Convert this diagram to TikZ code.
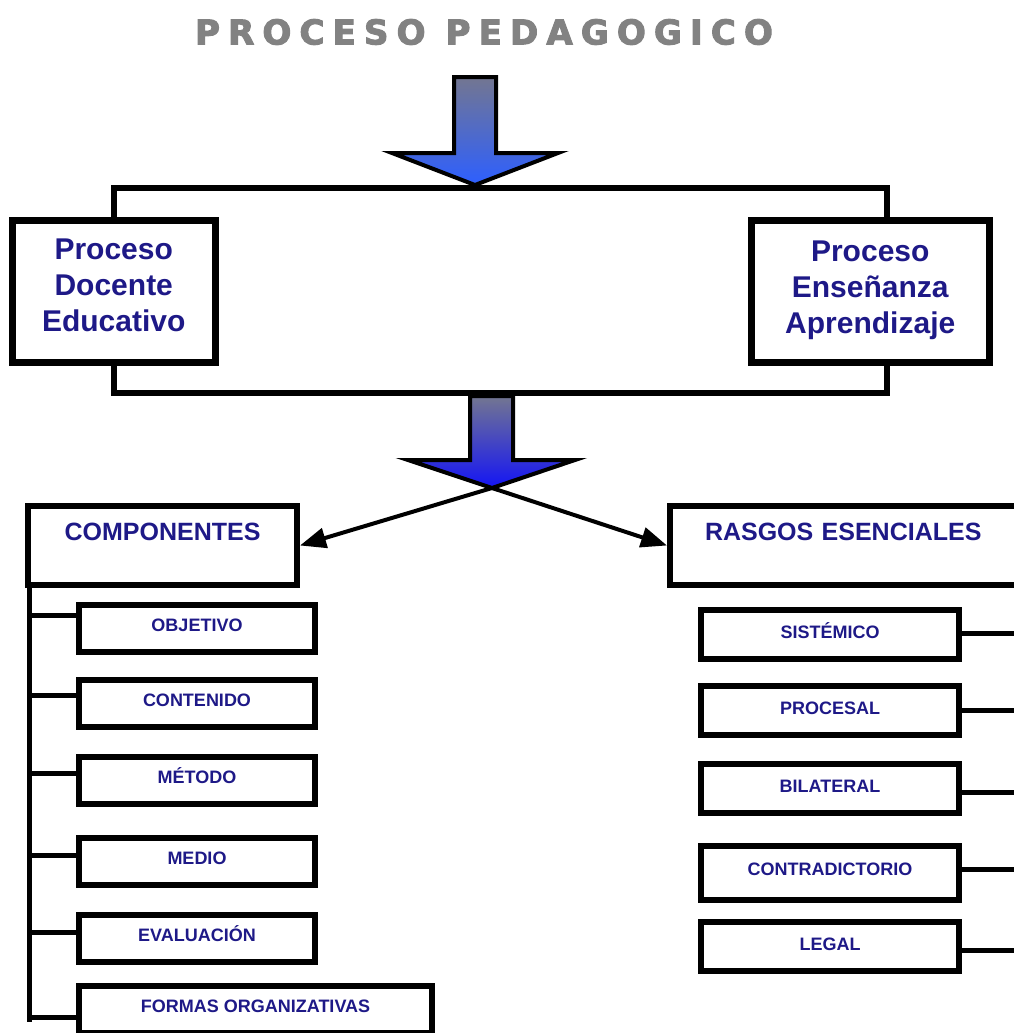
\documentclass[tikz,border=0pt]{standalone}
\usepackage{fontspec}
\setmainfont{Liberation Sans}
\newfontfamily\titlefont{DejaVu Sans Bold}[LetterSpace=24,FakeBold=3]
\usepackage{tikz}
\usetikzlibrary{arrows.meta,positioning}

\definecolor{txtblue}{RGB}{30,25,135}
\definecolor{titlegray}{RGB}{130,130,130}
\definecolor{arrowtop}{RGB}{115,118,145}
\definecolor{arrowbot}{RGB}{45,95,255}
\definecolor{arrowbotb}{RGB}{20,20,245}

\begin{document}
\begin{tikzpicture}[x=1pt,y=-1pt,
    boxframe/.style={draw,line width=6pt,inner sep=0pt,anchor=north west,text=txtblue},
    bigbox/.style={boxframe,line width=6.5pt,minimum height=142pt,align=center,
      font=\fontsize{30}{36}\selectfont\bfseries},
    headbox/.style={boxframe,text height=34pt,text depth=45pt,
      font=\fontsize{25}{30}\selectfont\bfseries},
    leftbox/.style={boxframe,minimum width=236pt,text height=26pt,text depth=21pt,
      font=\fontsize{18}{21}\selectfont\bfseries},
    rightbox/.style={boxframe,minimum width=258pt,text height=28pt,text depth=21pt,
      font=\fontsize{18}{21}\selectfont\bfseries},
    conn/.style={line width=6.5pt},
    branch/.style={line width=5pt},
    pointer/.style={line width=4pt,-{Triangle[length=26pt,width=20pt]}},
    blockarrow/.style={draw,line width=4pt,line join=miter}]
  \useasboundingbox (0,0) rectangle (1014,1033);

  \node[text=titlegray,font=\fontsize{34}{40}\selectfont\titlefont] (title) at (484,32) {PROCESO PEDAGOGICO};

  % upper level
  \node[bigbox,minimum width=203pt] (docente) at (9,217) {Proceso\\Docente\\Educativo\\[-24pt]};
  \node[bigbox,minimum width=238pt] (ensenanza) at (748,217) {Proceso\\Enseñanza\\Aprendizaje\\[-28pt]};
  \coordinate (topr) at (887,188);
  \coordinate (botr) at (887,393);

  \draw[blockarrow,top color=arrowtop,bottom color=arrowbot]
    (454,77) -- (496,77) -- (496,153) -- (558,153) -- (475,185) -- (392,153) -- (454,153) -- cycle;
  \draw[blockarrow,top color=arrowtop,bottom color=arrowbotb]
    (470,396) -- (513,396) -- (513,460) -- (575,460) -- (492,488) -- (408,460) -- (470,460) -- cycle;
  \coordinate (tip) at (492,488);

  \draw[conn] (docente.north) |- (topr) -- (topr |- ensenanza.north);
  \draw[conn] (docente.south) |- (botr) -- (botr |- ensenanza.south);

  % second level
  \node[headbox,minimum width=269pt] (comp) at (25,503) {COMPONENTES};
  \node[headbox,text width=330pt,align=left,inner xsep=35pt] (rasgos) at (667,503) {RASGOS ESENCIALES};
  \draw[pointer] (tip) -- (comp.east);
  \draw[pointer] (tip) -- (rasgos.west);

  % componentes
  \node[leftbox] (obj) at (76,602) {OBJETIVO};
  \node[leftbox] (cont) at (76,677) {CONTENIDO};
  \node[leftbox] (met) at (76,754) {MÉTODO};
  \node[leftbox] (med) at (76,835) {MEDIO};
  \node[leftbox] (eval) at (76,912) {EVALUACIÓN};
  \node[leftbox,minimum width=353pt] (formas) at (76,983) {FORMAS ORGANIZATIVAS};

  \coordinate (spine) at (29,1022);
  \coordinate (b1) at (29,615);
  \coordinate (b2) at (29,695);
  \coordinate (b3) at (29,773);
  \coordinate (b4) at (29,855);
  \coordinate (b5) at (29,932);
  \coordinate (b6) at (29,1017);
  \draw[branch] (comp.south -| spine) -- (spine);
  \draw[branch] (b1) -- (b1 -| obj.west);
  \draw[branch] (b2) -- (b2 -| cont.west);
  \draw[branch] (b3) -- (b3 -| met.west);
  \draw[branch] (b4) -- (b4 -| med.west);
  \draw[branch] (b5) -- (b5 -| eval.west);
  \draw[branch] (b6) -- (b6 -| formas.west);

  % rasgos esenciales
  \node[rightbox] (sis) at (698,607) {SISTÉMICO};
  \node[rightbox] (proc) at (698,683) {PROCESAL};
  \node[rightbox] (bil) at (698,761) {BILATERAL};
  \node[rightbox,text height=29pt,text depth=25pt] (contr) at (698,843) {CONTRADICTORIO};
  \node[rightbox] (legal) at (698,919) {LEGAL};

  \coordinate (r1) at (1030,633);
  \coordinate (r2) at (1030,710);
  \coordinate (r3) at (1030,792);
  \coordinate (r4) at (1030,869);
  \coordinate (r5) at (1030,950);
  \draw[branch] (sis.east |- r1) -- (r1);
  \draw[branch] (proc.east |- r2) -- (r2);
  \draw[branch] (bil.east |- r3) -- (r3);
  \draw[branch] (contr.east |- r4) -- (r4);
  \draw[branch] (legal.east |- r5) -- (r5);
\end{tikzpicture}
\end{document}
